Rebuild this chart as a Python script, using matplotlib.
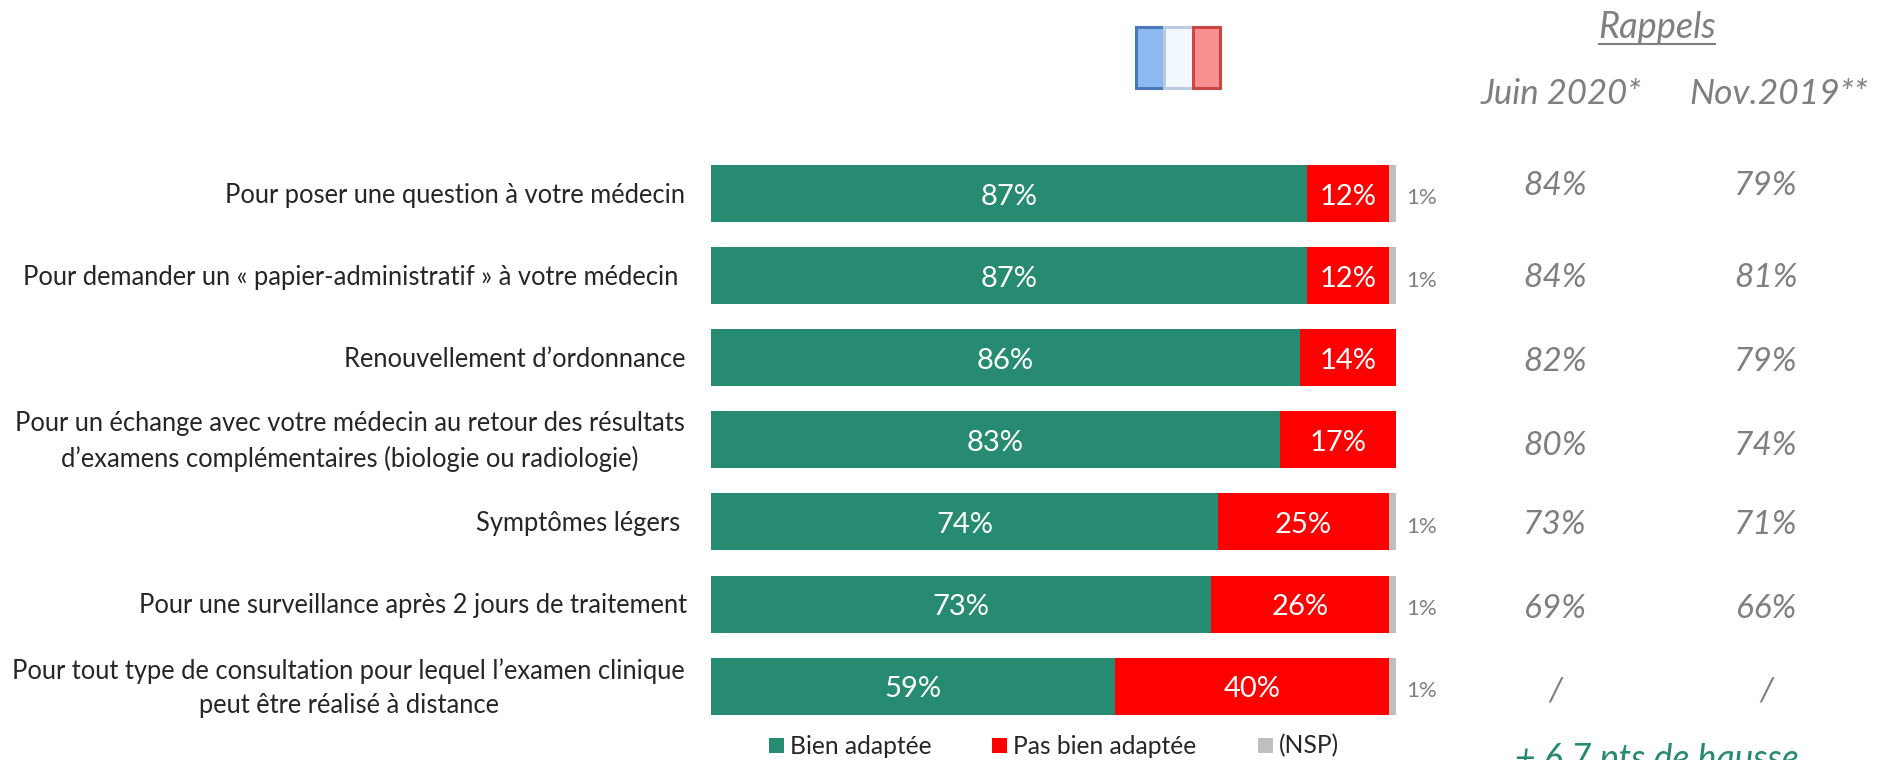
import matplotlib
matplotlib.use('Agg')
import matplotlib.pyplot as plt
from matplotlib.patches import Rectangle

W, H = 1879, 760

# Valeurs
labels = [
    "Pour poser une question à votre médecin",
    "Pour demander un « papier-administratif » à votre médecin",
    "Renouvellement d’ordonnance",
    "Pour un échange avec votre médecin au retour des résultats\nd’examens complémentaires (biologie ou radiologie)",
    "Symptômes légers",
    "Pour une surveillance après 2 jours de traitement",
    "Pour tout type de consultation pour lequel l’examen clinique\npeut être réalisé à distance",
]
bien = [87, 87, 86, 83, 74, 73, 59]
pas_bien = [12, 12, 14, 17, 25, 26, 40]
nsp = [1, 1, 0, 0, 1, 1, 1]
juin_2020 = ["84%", "84%", "82%", "80%", "73%", "69%", "/"]
nov_2019 = ["79%", "81%", "79%", "74%", "71%", "66%", "/"]

# placement du texte (pixels de l'image)
label_right = [685, 678, 685, 685, 680, 687, 685]
rappel_y = [186, 278, 362, 446, 525, 609, 691]

GREEN = '#278b71'
RED = '#ff0000'
GREY = '#bfbfbf'
TXT = '#7f7f7f'

plt.rcParams['font.family'] = ['Lato', 'DejaVu Sans']

fig = plt.figure(figsize=(W / 100, H / 100), dpi=100)


def fx(x):
    return x / W


def fy(y):
    return 1 - y / H


# axes calee sur les barres : 0-100 % en x, une rangee par question
row0, row_step = 193.5, 82.1
ax = fig.add_axes([fx(711), fy(row0 + 6.5 * row_step), 685 / W, 7 * row_step / H])
ax.set_xlim(0, 100)
ax.set_ylim(6.5, -0.5)
ax.axis('off')

ys = list(range(len(labels)))
h = 57 / row_step
left2 = bien
left3 = [a + b for a, b in zip(bien, pas_bien)]
ax.barh(ys, bien, height=h, color=GREEN)
ax.barh(ys, pas_bien, left=left2, height=h, color=RED)
ax.barh(ys, nsp, left=left3, height=h, color=GREY)

for i in ys:
    yc = row0 + i * row_step
    ax.text(bien[i] / 2, i + 3 / row_step, f"{bien[i]}%", color='white', fontsize=21,
            ha='center', va='center')
    ax.text(bien[i] + pas_bien[i] / 2, i + 3 / row_step, f"{pas_bien[i]}%", color='white',
            fontsize=21, ha='center', va='center')
    if nsp[i]:
        fig.text(fx(1422), fy(yc + 5), f"{nsp[i]}%", color=TXT, fontsize=16,
                 ha='center', va='center')
    fig.text(fx(label_right[i]), fy(yc + 2), labels[i], color='#262626', fontsize=18.4,
             ha='right', va='center', multialignment='center', linespacing=1.45)
    fig.text(fx(1555), fy(rappel_y[i]), juin_2020[i], color=TXT, fontsize=24,
             style='italic', ha='center', va='center')
    fig.text(fx(1766), fy(rappel_y[i]), nov_2019[i], color=TXT, fontsize=24,
             style='italic', ha='center', va='center')

# en-tetes
fig.text(fx(1657), fy(27), "Rappels", color=TXT, fontsize=26, style='italic',
         ha='center', va='center')
fig.add_artist(plt.Line2D([fx(1599), fx(1715)], [fy(44), fy(44)], color=TXT, lw=1.5))
fig.text(fx(1561), fy(94), "Juin 2020*", color=TXT, fontsize=25, style='italic',
         ha='center', va='center')
fig.text(fx(1779), fy(94), "Nov.2019**", color=TXT, fontsize=25.5, style='italic',
         ha='center', va='center')

# petit drapeau
flag = [(1136, 28, '#8db8f0', '#4a78b8'), (1164, 29, '#f2f8ff', '#b9cbe0'), (1193, 27, '#f99090', '#c84646')]
for x0, w, fc, ec in flag:
    fig.add_artist(Rectangle((fx(x0), fy(88)), w / W, 61 / H, transform=fig.transFigure,
                             facecolor=fc, edgecolor=ec, lw=2.2))

# legende
legend_items = [(769, "Bien adaptée", GREEN), (992, "Pas bien adaptée", RED), (1258, "(NSP)", GREY)]
for x0, name, c in legend_items:
    fig.add_artist(Rectangle((fx(x0), fy(753)), 15 / W, 15 / H, transform=fig.transFigure,
                             facecolor=c, edgecolor='none'))
    fig.text(fx(x0 + 21), fy(746), name, color='#262626', fontsize=17.7,
             ha='left', va='center')

# texte coupe en bas de l'image, comme sur l'original
fig.text(fx(1657), fy(759), "+ 6,7 pts de hausse", color=GREEN, fontsize=25.6, style='italic',
         ha='center', va='center')

fig.savefig('out.png', dpi=100)
